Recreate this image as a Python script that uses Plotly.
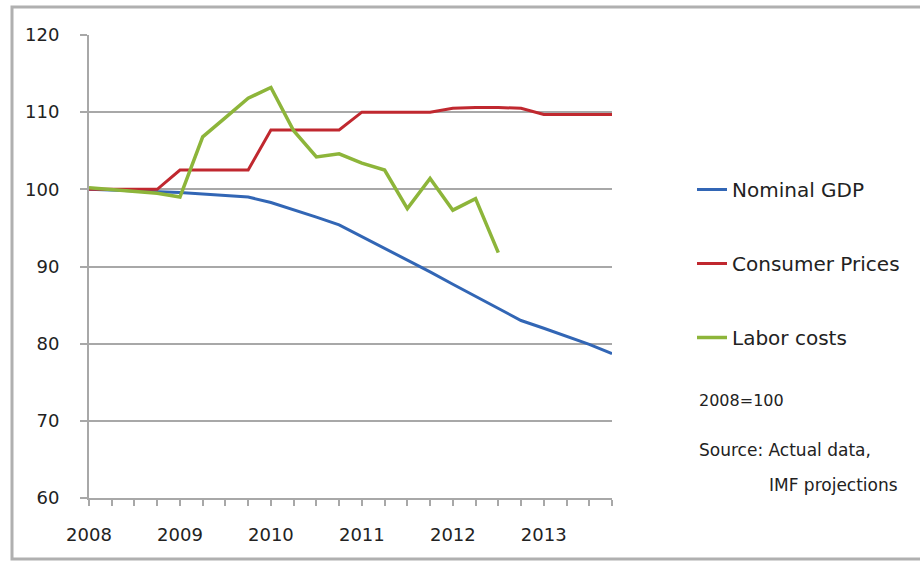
import plotly.graph_objects as go

quarters = [f"{y}Q{q}" for y in range(2008, 2014) for q in range(1, 5)]
year_ticks = ["2008", "2009", "2010", "2011", "2012", "2013"]

nominal_gdp = [100.0, 99.9, 99.8, 99.7, 99.6, 99.4, 99.2, 99.0,
               98.3, 97.4, 96.4, 95.4, 93.9, 92.4, 90.9, 89.3,
               87.7, 86.1, 84.6, 83.0, 82.0, 81.0, 79.9, 78.7]
consumer_prices = [100.0, 100.0, 100.0, 100.0, 102.5, 102.5, 102.5, 102.5,
                   107.7, 107.7, 107.7, 107.7, 110.0, 110.0, 110.0, 110.0,
                   110.5, 110.6, 110.6, 110.5, 109.7, 109.7, 109.7, 109.7]
labor_costs = [100.2, 100.0, 99.8, 99.5, 99.0, 106.8, 109.3, 111.8,
               113.2, 107.6, 104.2, 104.6, 103.4, 102.5, 97.5, 101.4,
               97.3, 98.8, 91.8]

x_idx = list(range(len(quarters)))

FONT = "DejaVu Sans"
TXT = "#222222"
GRID = "#a8a8a8"

fig = go.Figure()
fig.add_trace(go.Scatter(x=x_idx, y=nominal_gdp, mode="lines", name="Nominal GDP",
                         line=dict(color="#3266b5", width=3), legendgroup="a"))
fig.add_trace(go.Scatter(x=x_idx, y=consumer_prices, mode="lines", name="Consumer Prices",
                         line=dict(color="#c0282f", width=3), legendgroup="b"))
fig.add_trace(go.Scatter(x=x_idx[:len(labor_costs)], y=labor_costs, mode="lines", name="Labor costs",
                         line=dict(color="#8db53a", width=3.5), legendgroup="c"))

L, R, T, B = 89, 612, 35, 498
W, H = 920, 561
def px(x):
    return (x - L) / (R - L)
def py(y):
    return (B - y) / (B - T)

fig.update_layout(
    width=W, height=H,
    margin=dict(l=L, r=W - R, t=T, b=H - B, pad=0),
    paper_bgcolor="white", plot_bgcolor="white",
    font=dict(family=FONT, color=TXT, size=18),
    legend=dict(x=px(692), y=py(170), xanchor="left", yanchor="top",
                font=dict(size=20, family=FONT, color=TXT),
                tracegroupgap=45, bgcolor="rgba(0,0,0,0)"),
    xaxis=dict(range=[0, 23], tickvals=[0, 4, 8, 12, 16, 20], ticktext=year_ticks,
               showgrid=False, zeroline=False, showline=True, linecolor=GRID, linewidth=2,
               ticks="outside", ticklen=6, tickcolor=GRID, tickwidth=2,
               ticklabelstandoff=13, tickfont=dict(size=18, family=FONT, color=TXT),
               minor=dict(dtick=1, tick0=0, ticks="outside", ticklen=6, tickcolor=GRID,
                          tickwidth=2, showgrid=False)),
    yaxis=dict(range=[60, 120], dtick=10, showgrid=True, gridcolor=GRID, gridwidth=2,
               zeroline=False, showline=True, linecolor=GRID, linewidth=2,
               ticks="outside", ticklen=7, tickcolor=GRID, tickwidth=2,
               ticklabelstandoff=17, tickfont=dict(size=18, family=FONT, color=TXT)),
    shapes=[dict(type="rect", xref="paper", yref="paper",
                 x0=px(12), x1=px(940), y0=py(559), y1=py(7),
                 line=dict(color="#b0b0b0", width=3), layer="below")],
    annotations=[
        dict(text="2008=100", xref="paper", yref="paper", x=px(697), y=py(400),
             xanchor="left", yanchor="middle", showarrow=False,
             font=dict(size=16, family=FONT, color=TXT)),
        dict(text="Source: Actual data,", xref="paper", yref="paper", x=px(697), y=py(450),
             xanchor="left", yanchor="middle", showarrow=False,
             font=dict(size=17, family=FONT, color=TXT)),
        dict(text="IMF projections", xref="paper", yref="paper", x=px(767), y=py(485),
             xanchor="left", yanchor="middle", showarrow=False,
             font=dict(size=17, family=FONT, color=TXT)),
    ],
)

fig.write_html("out.html")
